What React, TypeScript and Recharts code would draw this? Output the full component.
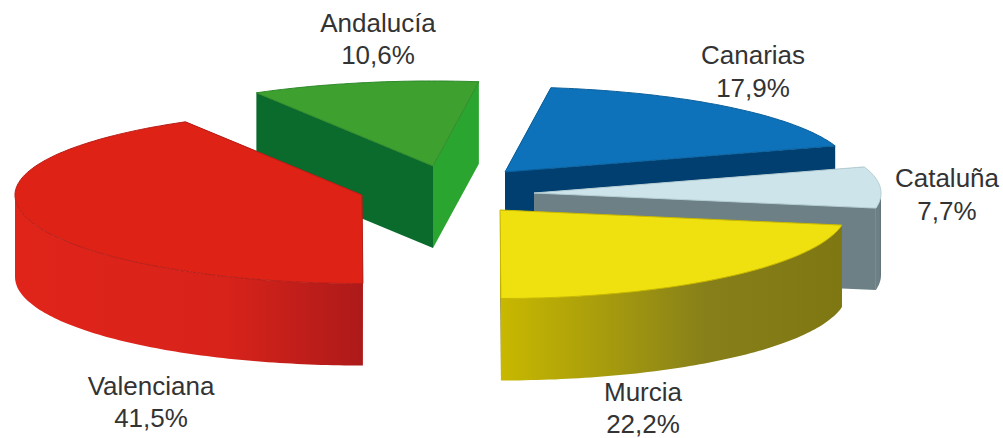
/**
 * Exploded 3D pie: share of each region, drawn with an elliptical custom sector.
 */

import { PieChart, Pie } from 'recharts';

const REGIONS = ['Andalucía', 'Canarias', 'Cataluña', 'Murcia', 'Valenciana'];
const SHARES = [10.6, 17.9, 7.7, 22.2, 41.5];

const chartData = REGIONS.map((name, i) => ({ name, value: SHARES[i] }));

const WIDTH = 1003;
const HEIGHT = 438;
const PIE_X = 500;
const PIE_Y = 200;
const RADIUS = 347;
const DEPTH = 82;
// vertical squash of the disc, the near half is a bit larger than the far one
const SQUASH_FAR = 0.245;
const SQUASH_NEAR = 0.255;

interface SliceStyle {
  // how far the slice is pulled out of the pie
  dx: number;
  dy: number;
  top: string;
  edge: string;
  startFace: string;
  endFace: string;
  wall: [string, string, string];
  // label centre and the two baselines
  labelX: number;
  labelY: [number, number];
}

const SLICE_STYLES: Record<string, SliceStyle> = {
  Andalucía: {
    dx: -67,
    dy: -34,
    top: '#3da02f',
    edge: '#2f8a2a',
    startFace: '#0b6b2d',
    endFace: '#2aa52f',
    wall: ['#2aa52f', '#2aa52f', '#2aa52f'],
    labelX: 378,
    labelY: [32, 64],
  },
  Canarias: {
    dx: 5,
    dy: -28,
    top: '#0d72b9',
    edge: '#0b609c',
    startFace: '#003f70',
    endFace: '#003f70',
    wall: ['#003f70', '#003f70', '#003f70'],
    labelX: 753,
    labelY: [64, 97],
  },
  Cataluña: {
    dx: 34,
    dy: -7,
    top: '#cde5ea',
    edge: '#b5cdd3',
    startFace: '#6c8085',
    endFace: '#6c8085',
    wall: ['#6c8085', '#6c8085', '#5f7378'],
    labelX: 947,
    labelY: [187, 220],
  },
  Murcia: {
    dx: 0,
    dy: 10,
    top: '#efe10f',
    edge: '#c8b800',
    startFace: '#8b8114',
    endFace: '#8b8114',
    wall: ['#c8b800', '#87801a', '#7f7812'],
    labelX: 643,
    labelY: [401, 433],
  },
  Valenciana: {
    dx: -138,
    dy: -5,
    top: '#df2216',
    edge: '#b81d17',
    startFace: '#b01a18',
    endFace: '#b01a18',
    wall: ['#e0241a', '#d8231a', '#ad1a1a'],
    labelX: 151,
    labelY: [395, 427],
  },
};

type Point = [number, number];

function project(cx: number, cy: number, radius: number, angle: number): Point {
  const rad = (angle * Math.PI) / 180;
  const sin = Math.sin(rad);
  const squash = sin > 0 ? SQUASH_FAR : SQUASH_NEAR;
  return [cx + radius * Math.cos(rad), cy - radius * sin * squash];
}

// Points along the rim, going clockwise from one angle down to a smaller one
function rimPoints(cx: number, cy: number, radius: number, from: number, to: number): Point[] {
  const steps = Math.max(1, Math.ceil(from - to));
  const points: Point[] = [];
  for (let i = 0; i <= steps; i++) {
    points.push(project(cx, cy, radius, from + ((to - from) * i) / steps));
  }
  return points;
}

function toPath(points: Point[]): string {
  return `M${points.map(([x, y]) => `${x.toFixed(1)},${y.toFixed(1)}`).join('L')}Z`;
}

function lowered(points: Point[]): Point[] {
  return points.map(([x, y]) => [x, y + DEPTH] as Point);
}

function SliceShape(props: any) {
  const { cx, cy, outerRadius, startAngle, endAngle, name, index } = props;
  const style = SLICE_STYLES[name];
  const ax = cx + style.dx;
  const ay = cy + style.dy;
  const apex: Point = [ax, ay];
  const startRim = project(ax, ay, outerRadius, startAngle);
  const endRim = project(ax, ay, outerRadius, endAngle);

  const startFace = [apex, startRim, ...lowered([startRim, apex])];
  const endFace = [apex, endRim, ...lowered([endRim, apex])];

  // only the part of the rim on the near side of the disc shows its wall
  const wallFrom = Math.min(startAngle, 0);
  const wallTo = Math.max(endAngle, -180);
  const hasWall = wallFrom > wallTo;
  const wallRim = hasWall ? rimPoints(ax, ay, outerRadius, wallFrom, wallTo) : [];
  const wall = [...wallRim, ...lowered(wallRim).reverse()];

  const top = [apex, ...rimPoints(ax, ay, outerRadius, startAngle, endAngle)];
  const gradientId = `slice-wall-${index}`;

  return (
    <g>
      <defs>
        <linearGradient id={gradientId} x1="0" y1="0" x2="1" y2="0">
          <stop offset="0%" stopColor={style.wall[0]} />
          <stop offset="60%" stopColor={style.wall[1]} />
          <stop offset="100%" stopColor={style.wall[2]} />
        </linearGradient>
      </defs>
      <path d={toPath(startFace)} fill={style.startFace} />
      <path d={toPath(endFace)} fill={style.endFace} />
      {hasWall && <path d={toPath(wall)} fill={`url(#${gradientId})`} />}
      <path d={toPath(top)} fill={style.top} stroke={style.edge} strokeWidth={1} />
    </g>
  );
}

function SliceLabel(props: any) {
  const { name, value } = props;
  const style = SLICE_STYLES[name];
  const share = `${value.toFixed(1).replace('.', ',')}%`;
  return (
    <text
      textAnchor="middle"
      fontFamily="'Liberation Sans', Arial, sans-serif"
      fontSize={26}
      fill="#333333"
    >
      <tspan x={style.labelX} y={style.labelY[0]}>
        {name}
      </tspan>
      <tspan x={style.labelX} y={style.labelY[1]}>
        {share}
      </tspan>
    </text>
  );
}

export default function App() {
  return (
    <div style={{ position: 'absolute', left: 0, top: 0, width: WIDTH, height: HEIGHT, background: '#fff' }}>
      <PieChart width={WIDTH} height={HEIGHT} margin={{ top: 0, right: 0, bottom: 0, left: 0 }}>
        <Pie
          data={chartData}
          dataKey="value"
          nameKey="name"
          cx={PIE_X}
          cy={PIE_Y}
          innerRadius={0}
          outerRadius={RADIUS}
          startAngle={120.6}
          endAngle={-239.4}
          stroke="none"
          isAnimationActive={false}
          shape={SliceShape}
          activeShape={SliceShape}
          inactiveShape={SliceShape}
          label={SliceLabel}
          labelLine={false}
        />
      </PieChart>
    </div>
  );
}
